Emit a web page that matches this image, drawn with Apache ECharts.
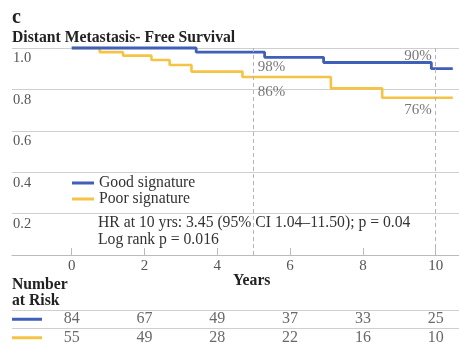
<!DOCTYPE html>
<html>
<head>
<meta charset="utf-8">
<script src="https://cdn.jsdelivr.net/npm/echarts@6/dist/echarts.min.js"></script>
<style>
  html, body { margin: 0; padding: 0; background: #fff; }
  #chart { width: 459px; height: 347px; }
</style>
</head>
<body>
<div id="chart"></div>
<script>
// Kaplan–Meier step data (years, survival proportion)
const goodTimes = [0, 3.42, 5.30, 6.92, 9.88, 10.47];
const goodSurv  = [1.0, 0.98, 0.955, 0.93, 0.90, 0.90];
const poorTimes = [0, 0.77, 1.41, 2.19, 2.69, 3.29, 4.69, 7.12, 8.53, 10.47];
const poorSurv  = [1.0, 0.98, 0.963, 0.942, 0.918, 0.886, 0.86, 0.805, 0.76, 0.76];

// Survival estimates called out at 5 and 10 years
const noteYears = [5, 5, 10, 10];
const noteSurv  = [0.98, 0.86, 0.90, 0.76];

// Axis ticks and number at risk
const yearTicks = [0, 2, 4, 6, 8, 10];
const survTicks = [0.2, 0.4, 0.6, 0.8, 1.0];
const riskGood  = [84, 67, 49, 37, 33, 25];
const riskPoor  = [55, 49, 28, 22, 16, 10];
const groups    = ['Good signature', 'Poor signature'];

const BLUE = '#3f5fb8';
const YELLOW = '#f6c444';
const SERIF = '"Liberation Serif", "DejaVu Serif", serif';
const GRID_C = '#cfcfcf';

const zip = (xs, ys) => xs.map((x, i) => [x, ys[i]]);

// label offsets for each call-out (left of / right of the dashed guides)
const noteLayout = [
  { align: 'left',  offset: [4, 15] },
  { align: 'left',  offset: [4, 15] },
  { align: 'right', offset: [-4, -13] },
  { align: 'right', offset: [-4, 12] }
];
const noteData = noteYears.map((t, i) => ({
  value: [t, noteSurv[i]],
  label: {
    show: true, position: 'inside',
    align: noteLayout[i].align, verticalAlign: 'middle',
    offset: noteLayout[i].offset
  }
}));

const riskData = [];
yearTicks.forEach((t, i) => {
  riskData.push([t, 0, riskGood[i]]);
  riskData.push([t, 1, riskPoor[i]]);
});

const X_MIN = -1.64, X_MAX = 10.64;

const chart = echarts.init(document.getElementById('chart'), null, { renderer: 'canvas' });
chart.setOption({
  animation: false,
  backgroundColor: '#fff',
  textStyle: { fontFamily: SERIF },
  grid: [
    { left: 12, right: 0, top: 48, bottom: 92 },
    { left: 12, right: 0, top: 310, height: 40 }
  ],
  legend: {
    data: groups,
    orient: 'vertical',
    left: 72, top: 175,
    padding: 0,
    icon: 'rect',
    itemWidth: 22, itemHeight: 3,
    itemGap: 0,
    textStyle: { fontFamily: SERIF, fontSize: 15.7, color: '#333', lineHeight: 14.6 }
  },
  xAxis: [
    {
      type: 'value', gridIndex: 0, min: X_MIN, max: X_MAX,
      axisLine: { show: true, lineStyle: { color: '#bbb', width: 1 } },
      axisTick: { show: true, inside: true, length: 7, customValues: yearTicks, lineStyle: { color: '#bbb' } },
      axisLabel: { customValues: yearTicks, margin: 4, fontFamily: SERIF, fontSize: 15, color: '#555' },
      splitLine: { show: false }
    },
    {
      type: 'value', gridIndex: 1, min: X_MIN, max: X_MAX, show: false
    }
  ],
  yAxis: [
    {
      type: 'value', gridIndex: 0, min: 0, max: 1, interval: 0.2,
      axisLine: { show: false }, axisTick: { show: false },
      axisLabel: {
        inside: true, customValues: survTicks, margin: 1,
        verticalAlign: 'top', padding: [3, 0, 0, 0],
        formatter: v => v.toFixed(1),
        fontFamily: SERIF, fontSize: 14.5, color: '#555'
      },
      splitLine: { show: true, lineStyle: { color: GRID_C, width: 1 } }
    },
    {
      type: 'category', gridIndex: 1, data: groups, inverse: true,
      axisLine: { show: false }, axisTick: { show: false },
      axisLabel: {
        inside: true, margin: 0,
        formatter: (v, i) => i === 0 ? '{g|}' : '{p|}',
        rich: {
          g: { backgroundColor: BLUE, width: 30, height: 3 },
          p: { backgroundColor: YELLOW, width: 30, height: 3 }
        }
      },
      splitLine: { show: true, lineStyle: { color: GRID_C, width: 1 } }
    }
  ],
  graphic: [
    { type: 'text', left: 12, top: 8, style: { text: 'c', font: 'bold 20px ' + SERIF, fill: '#222' } },
    { type: 'text', left: 12, top: 30, style: { text: 'Distant Metastasis- Free Survival', font: 'bold 15.7px ' + SERIF, fill: '#222' } },
    { type: 'text', left: 98, top: 215, style: { text: 'HR at 10 yrs: 3.45 (95% CI 1.04\u201311.50); p = 0.04\nLog rank p = 0.016', font: '15.7px ' + SERIF, fill: '#333', lineHeight: 16.7 } },
    { type: 'text', left: 233, top: 273, style: { text: 'Years', font: 'bold 15.7px ' + SERIF, fill: '#222' } },
    { type: 'text', left: 12, top: 277, style: { text: 'Number\nat Risk', font: 'bold 15.7px ' + SERIF, fill: '#222', lineHeight: 16 } }
  ],
  series: [
    {
      name: 'Poor signature', type: 'line', xAxisIndex: 0, yAxisIndex: 0,
      data: zip(poorTimes, poorSurv), step: 'end', showSymbol: false, clip: false,
      color: YELLOW, lineStyle: { color: YELLOW, width: 2.6 },
      markLine: {
        silent: true, symbol: 'none', label: { show: false },
        lineStyle: { color: '#b5b5b5', type: [4, 3], width: 1 },
        data: [{ xAxis: 5 }, { xAxis: 10 }]
      }
    },
    {
      name: 'Good signature', type: 'line', xAxisIndex: 0, yAxisIndex: 0,
      data: zip(goodTimes, goodSurv), step: 'end', showSymbol: false, clip: false,
      color: BLUE, lineStyle: { color: BLUE, width: 2.8 }
    },
    {
      type: 'scatter', xAxisIndex: 0, yAxisIndex: 0, symbolSize: 0, silent: true,
      data: noteData,
      label: {
        fontFamily: SERIF, fontSize: 15, color: '#555',
        formatter: p => Math.round(p.value[1] * 100) + '%'
      }
    },
    {
      type: 'scatter', xAxisIndex: 1, yAxisIndex: 1, symbolSize: 0, silent: true,
      data: riskData,
      label: {
        show: true, position: 'inside', fontFamily: SERIF, fontSize: 16, color: '#444',
        formatter: p => String(p.value[2])
      }
    }
  ]
});
</script>
</body>
</html>
